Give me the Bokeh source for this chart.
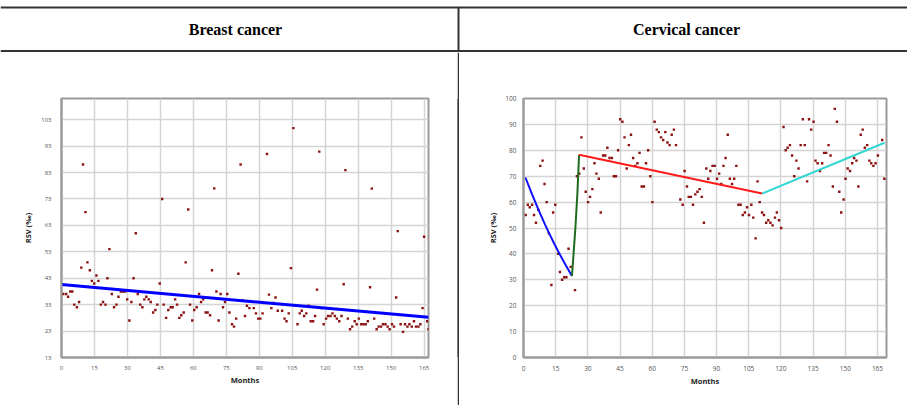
from bokeh.plotting import figure
from bokeh.layouts import column, row
from bokeh.models import Range1d, FixedTicker
from bokeh.core.properties import value
from bokeh.embed import file_html
from bokeh.resources import INLINE

# ---------------- data ----------------
titles = ["Breast cancer", "Cervical cancer"]

breast_months = [0.8, 2.1, 3.0, 4.0, 4.9, 5.8, 7.0, 8.0, 9.0, 9.8, 10.9, 11.8, 12.9, 13.8, 14.9, 15.9, 16.8,
                 17.9, 18.9, 20.0, 20.9, 21.8, 22.9, 23.9, 25.0, 25.9, 27.0, 28.0, 29.0, 29.9, 30.9, 31.8, 32.8,
                 33.8, 34.7, 35.8, 36.8, 37.7, 38.6, 39.7, 40.6, 41.7, 42.7, 43.6, 44.7, 45.8, 46.5, 47.6, 48.6,
                 49.7, 50.6, 51.7, 52.6, 53.6, 54.5, 55.6, 56.5, 57.7, 58.5, 59.5, 60.4, 61.5, 62.6, 63.5, 64.5,
                 65.6, 66.5, 67.6, 68.5, 69.5, 70.5, 71.5, 72.4, 73.5, 74.4, 75.4, 76.4, 77.6, 78.5, 79.5, 80.5,
                 81.5, 82.4, 83.5, 84.4, 85.5, 87.5, 88.5, 89.5, 90.5, 91.5, 93.5, 94.4, 95.5, 96.4, 97.4, 98.4,
                 100.4, 101.5, 102.4, 103.4, 104.4, 105.5, 106.5, 107.4, 108.4, 109.3, 110.4, 111.4, 112.4, 113.4,
                 114.5, 115.4, 116.3, 117.3, 118.4, 119.3, 120.4, 121.3, 122.4, 123.3, 124.4, 125.3, 126.4, 127.4,
                 128.4, 129.2, 130.3, 131.3, 132.3, 133.4, 134.3, 135.3, 136.4, 137.4, 138.4, 139.4, 140.4, 141.2,
                 142.3, 143.4, 144.3, 145.4, 146.3, 147.4, 148.4, 149.3, 150.4, 151.3, 152.3, 153.0, 154.3, 155.4,
                 156.3, 157.4, 158.3, 159.4, 160.4, 161.3, 162.4, 163.3, 164.3, 165.0, 166.4, 167.0]
breast_rsv = [37, 37, 36, 38, 38, 33, 32, 34, 47, 86, 68, 49, 46, 42, 41, 44, 42,
              33, 34, 33, 43, 54, 37, 32, 33, 36, 38, 38, 38, 35, 27, 34, 43,
              60, 37, 33, 32, 35, 36, 35, 34, 30, 31, 33, 41, 73, 33, 28, 31,
              32, 32, 35, 33, 28, 29, 30, 49, 69, 33, 27, 31, 32, 37, 34, 35,
              30, 30, 29, 46, 77, 38, 27, 37, 32, 34, 37, 30, 25.6, 24.7, 27.7, 44.7,
              86, 34.7, 28.7, 32.6, 31.7, 31.7, 29.7, 27.7, 27.7, 29.7, 90, 36.8, 31.7, 33.6, 35.7, 30.7,
              30.7, 27.7, 26.7, 29.7, 46.8, 99.8, 32.6, 25.6, 29.7, 30.7, 28.7, 29.7, 32.6, 26.7,
              26.7, 28.7, 38.7, 90.9, 31.7, 25.6, 27.7, 28.7, 28.7, 29.7, 28.7, 27.7, 26.7, 28.7,
              40.7, 83.9, 27.7, 23.7, 24.7, 26.7, 25.6, 27.7, 25.6, 25.6, 25.6, 26.7, 39.6, 76.9,
              27.7, 23.7, 24.7, 24.7, 25.6, 25.6, 24.7, 23.7, 25.6, 24.7, 35.7, 60.8, 25.6, 22.7,
              25.6, 24.7, 25.6, 24.7, 26.7, 24.7, 24.7, 25.6, 31.7, 58.7, 26.7, 23.7]
breast_trend_x = [0, 167]
breast_trend_y = [40.6, 28.2]

cervical_months = [1.0, 2.0, 2.9, 4.0, 4.9, 5.8, 6.9, 7.8, 8.9, 9.8, 10.8, 11.8, 13.0, 13.8, 14.8, 16.1, 17.0,
                   18.0, 19.0, 20.0, 21.0, 22.0, 24.0, 24.9, 26.0, 27.0, 28.1, 29.0, 30.1, 31.0, 32.1, 33.1, 34.0,
                   35.1, 36.0, 37.1, 38.1, 39.1, 40.1, 41.2, 42.1, 43.1, 44.1, 45.1, 46.1, 47.1, 48.1, 49.1, 50.1,
                   51.1, 52.1, 53.1, 54.1, 55.1, 56.1, 57.1, 58.1, 59.1, 60.1, 61.1, 62.1, 63.1, 64.1, 65.1, 66.1,
                   67.1, 68.1, 69.1, 70.1, 71.1, 73.1, 74.2, 75.1, 76.2, 77.0, 78.0, 79.0, 80.1, 81.1, 82.1, 83.1,
                   84.1, 85.2, 86.1, 87.1, 88.1, 89.1, 90.2, 91.2, 92.2, 93.2, 94.2, 95.2, 96.2, 97.2, 98.2, 99.2,
                   100.2, 101.2, 102.2, 103.2, 104.2, 105.1, 106.2, 107.1, 108.2, 109.1, 110.1, 111.2, 112.1, 113.1,
                   114.1, 115.1, 116.1, 117.2, 118.1, 119.1, 120.1, 121.2, 122.2, 123.1, 124.2, 125.2, 126.2, 127.2,
                   128.2, 129.2, 130.2, 131.1, 132.2, 133.1, 134.1, 135.2, 136.1, 137.1, 138.2, 139.2, 140.1, 141.1,
                   142.2, 143.1, 144.2, 145.1, 146.1, 147.2, 148.1, 149.2, 150.1, 151.1, 152.2, 153.2, 154.1, 155.2,
                   156.1, 157.2, 158.1, 159.1, 160.2, 161.2, 162.1, 163.1, 164.1, 165.2, 167.2, 168.2]
cervical_rsv = [55, 59, 58, 59, 55, 52, 57, 74, 76, 67, 60, 48, 28, 56, 59, 40, 33,
                30, 31, 31, 42, 35, 26, 70, 71, 85, 73, 64, 60, 62, 65, 75, 71,
                69, 56, 78, 78, 81, 77, 77, 70, 70, 80, 92, 91, 85, 73, 82, 86,
                77, 74, 75, 79, 66, 66, 75, 80, 70, 60, 91, 88, 87, 85, 84, 87,
                83, 82, 86, 88, 82, 61, 59, 72, 66, 62, 62, 59, 63, 64, 65, 62,
                52, 73, 69, 72, 74, 74, 69, 71, 67, 74, 77, 86, 69, 67, 69, 74,
                59, 59, 55, 56, 58, 55, 59, 54, 46, 68, 60, 56, 55, 52,
                53, 52, 51, 54, 56, 53, 50, 89, 80, 81, 82, 78, 70, 76,
                73, 82, 92, 82, 68, 92, 88, 91, 76, 75, 72, 75, 79, 79,
                82, 78, 66, 96, 91, 64, 56, 61, 69, 73, 72, 75, 77, 76,
                66, 86, 88, 81, 82, 76, 75, 74, 75, 78, 84, 69]
seg1_x = [0.9, 4.0, 7.1, 10.0, 11.75, 14.0, 16.4, 19.5, 22.6]
seg1_y = [69.5, 63.0, 56.8, 51.4, 48.3, 44.5, 40.6, 35.9, 31.5]
seg2_x = [22.6, 24.2, 25.1, 25.9]
seg2_y = [31.5, 50.2, 63.0, 78.3]
seg3_x = [25.9, 111.2]
seg3_y = [78.3, 63.3]
seg4_x = [111.2, 168.3]
seg4_y = [63.3, 82.9]

breast_xticks = [0, 15, 30, 45, 60, 75, 90, 105, 120, 135, 150, 165]
breast_yticks = [13, 23, 33, 43, 53, 63, 73, 83, 93, 103]
cervical_xticks = [0, 15, 30, 45, 60, 75, 90, 105, 120, 135, 150, 165]
cervical_yticks = [0, 10, 20, 30, 40, 50, 60, 70, 80, 90, 100]

TICK_FONT = "Open Sans"
DOT = "#8b1010"
EDGE = "#333333"


def make_chart(width, height, xr, yr, xticks, yticks, borders, ytick_standoff, tick_size, ylabel_standoff):
    left, right, top, bottom = borders
    p = figure(width=width, height=height, x_range=Range1d(*xr), y_range=Range1d(*yr),
               toolbar_location=None, output_backend="svg",
               min_border_left=left, min_border_right=right, min_border_top=top, min_border_bottom=bottom)
    p.xaxis.ticker = FixedTicker(ticks=xticks)
    p.yaxis.ticker = FixedTicker(ticks=yticks)
    p.axis.major_tick_line_color = None
    p.axis.minor_tick_line_color = None
    p.axis.axis_line_color = "#9a9a9a"
    p.axis.axis_line_width = 2
    p.axis.major_label_text_font = TICK_FONT
    p.axis.major_label_text_font_size = tick_size
    p.axis.major_label_text_color = "#555555"
    p.xaxis.major_label_standoff = 2
    p.yaxis.major_label_standoff = ytick_standoff
    p.xaxis.axis_label = "Months"
    p.yaxis.axis_label = "RSV (‰)"
    p.axis.axis_label_text_font = TICK_FONT
    p.axis.axis_label_text_font_style = "bold"
    p.axis.axis_label_text_font_size = "7.5px"
    p.axis.axis_label_text_color = "#222222"
    p.xaxis.axis_label_standoff = 2
    p.yaxis.axis_label_standoff = ylabel_standoff
    p.grid.grid_line_color = "#d4d4d4"
    p.grid.grid_line_width = 1.5
    p.outline_line_color = "#9a9a9a"
    p.outline_line_width = 2
    p.background_fill_color = "white"
    p.border_fill_color = "white"
    return p


W = 907
HH = 52
CH = 353
LW = 457
DW = 2
RW = W - LW - DW

# header with table rules and titles
header = figure(width=W, height=HH, x_range=Range1d(0, W), y_range=Range1d(HH, 0),
                toolbar_location=None, output_backend="svg", min_border=0,
                x_axis_location=None, y_axis_location=None)
header.grid.visible = False
header.outline_line_color = None
header.segment(x0=[0, 0], y0=[7, 50.5], x1=[W, W], y1=[7, 50.5], line_color=EDGE, line_width=2)
header.segment(x0=[LW + 1], y0=[7], x1=[LW + 1], y1=[HH], line_color=EDGE, line_width=2)
header.text(x=[235, 686], y=[29, 29], text=titles, text_font=value("Liberation Serif"),
            text_font_style="bold", text_font_size="16px", text_align="center",
            text_baseline="middle", text_color="black")

left = make_chart(LW, CH, (0, 167), (13, 111), breast_xticks, breast_yticks,
                  (61, 29, 40, 47), 4, "6px", 5)
left.scatter(breast_months, breast_rsv, marker="square", size=2.4, fill_color=DOT, line_color=None)
left.line(breast_trend_x, breast_trend_y, line_color="#0000ff", line_width=3)

divider = figure(width=DW, height=CH, toolbar_location=None, output_backend="svg", min_border=0,
                 x_axis_location=None, y_axis_location=None, x_range=Range1d(0, 1), y_range=Range1d(0, 1))
divider.grid.visible = False
divider.outline_line_color = None
divider.background_fill_color = EDGE
divider.border_fill_color = EDGE
divider.segment(x0=[0.5], y0=[0], x1=[0.5], y1=[1], line_color=EDGE, line_width=2)

right = make_chart(RW, CH, (0, 169.2), (0, 100), cervical_xticks, cervical_yticks,
                   (64, 21, 46, 48), 1, "6.5px", 4)
right.scatter(cervical_months, cervical_rsv, marker="square", size=2.4, fill_color=DOT, line_color=None)
right.line(seg1_x, seg1_y, line_color="#1010ff", line_width=2)
right.line(seg2_x, seg2_y, line_color="#1e6b1e", line_width=2)
right.line(seg3_x, seg3_y, line_color="#ff1a1a", line_width=2)
right.line(seg4_x, seg4_y, line_color="#33d6d0", line_width=2)

layout = column(header, row(left, divider, right, spacing=0), spacing=0)

open("out.html", "w").write(file_html(layout, INLINE))
